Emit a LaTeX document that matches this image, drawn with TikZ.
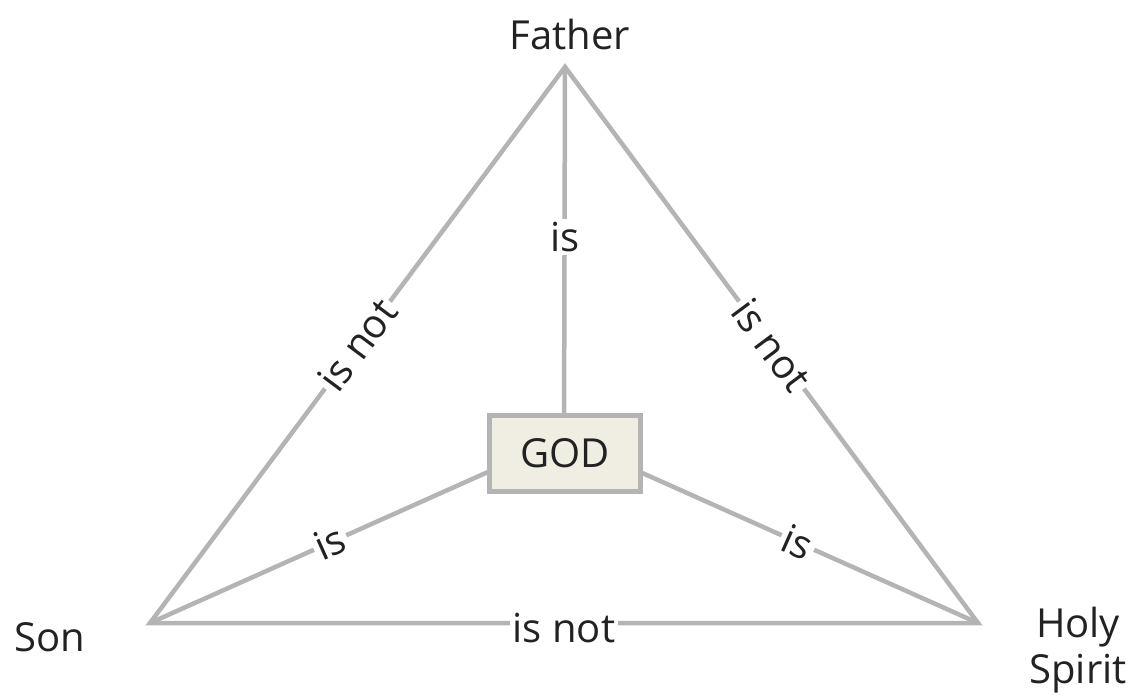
\documentclass[tikz,border=0pt]{standalone}
\usepackage{fontspec}
\setmainfont{Open Sans}
\usetikzlibrary{calc}
\definecolor{linegray}{RGB}{180,180,180}
\definecolor{boxfill}{RGB}{240,238,226}
\definecolor{txt}{RGB}{34,34,34}
\begin{document}
\begin{tikzpicture}[x=1pt,y=-1pt,
  edge/.style={draw=linegray,line width=4.5pt},
  lbl/.style={fill=white,inner sep=3pt,text=txt,font=\fontsize{40}{44}\selectfont},
  vtx/.style={inner sep=0pt,text=txt,font=\fontsize{40}{46}\selectfont,align=center},
  godbox/.style={draw=linegray,fill=boxfill,line width=5pt,minimum width=151pt,minimum height=76pt,inner sep=0pt,text=txt,font=\fontsize{40}{44}\selectfont}]
\useasboundingbox (0,0) rectangle (1134,698);
\coordinate (F) at (565,67);
\coordinate (S) at (150,623);
\coordinate (H) at (978,623);
\coordinate (C) at (564,438);
% outer triangle
\draw[edge,line join=miter] (F) -- (S) -- (H) -- cycle;
% inner spokes
\draw[edge] (F) -- (C);
\draw[edge] (S) -- (C);
\draw[edge] (H) -- (C);
\node[godbox] (god) at (565,453.5) {GOD};
% labels on edges
\node[lbl] (l1) at ($(S)!0.5!(F)$) [rotate=53.3] {is not};
\node[lbl] (l2) at ($(H)!0.5!(F)$) [rotate=-53.3] {is not};
\node[lbl] (l3) at ($(S)!0.5!(H)+(0,5)$) {is not};
\node[lbl] (l4) at (565,237) {is};
\node[lbl] (l5) at ($(S)!0.435!(C)$) [rotate=24.1] {is};
\node[lbl] (l6) at ($(H)!0.435!(C)$) [rotate=-24.1] {is};
% vertex labels
\node[vtx] (father) at (570,35) {Father};
\node[vtx] (son) at (50,637) {Son};
\node[vtx] (holy) at (1078,650) {Holy\\Spirit};
\end{tikzpicture}
\end{document}
